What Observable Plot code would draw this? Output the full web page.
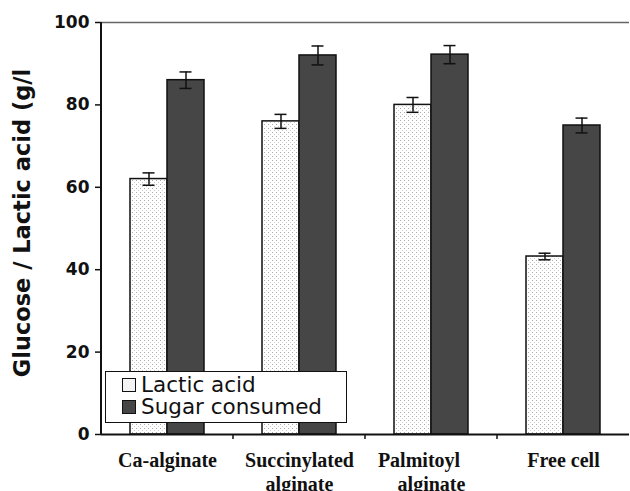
<!DOCTYPE html>
<html>
<head>
<meta charset="utf-8">
<script src="https://cdn.jsdelivr.net/npm/d3@7"></script>
<script src="https://cdn.jsdelivr.net/npm/@observablehq/plot@0.6"></script>
<style>
  html, body { margin: 0; padding: 0; background: #fff; }
  #wrap { position: relative; width: 630px; height: 491px; }
  #legend {
    position: absolute; left: 105px; top: 371px; width: 242px; height: 52px;
    border: 1.5px solid #111; background: #fff; box-sizing: border-box;
    font-family: "DejaVu Sans", Verdana, sans-serif; font-size: 21.5px; color: #111;
    padding: 2px 0 0 0; line-height: 22px;
  }
  #legend .row { display: flex; align-items: center; height: 22px; margin-left: 16px; }
  #legend .sw { width: 12px; height: 12px; border: 1.2px solid #111; margin-right: 5px; flex: none; }
</style>
</head>
<body>
<div id="wrap"></div>
<script>
const categories = ["Ca-alginate", "Succinylated alginate", "Palmitoyl alginate", "Free cell"];
const categoryLabels = ["Ca-alginate", "Succinylated\nalginate", "Palmitoyl\u00a0\u00a0\u00a0\u00a0\u00a0\nalginate", "Free cell"];
const series = ["Lactic acid", "Sugar consumed"];
const lacticAcid = [62, 76, 80, 43.2];
const sugarConsumed = [86, 92, 92.2, 75];
const lacticErr = [1.5, 1.7, 1.8, 0.8];
const sugarErr = [2.0, 2.3, 2.2, 1.8];
const yTicks = [0, 20, 40, 60, 80, 100];
const yLabel = "Glucose / Lactic acid (g/l";

const data = [];
categories.forEach((c, i) => {
  data.push({cat: c, series: series[0], value: lacticAcid[i], err: lacticErr[i]});
  data.push({cat: c, series: series[1], value: sugarConsumed[i], err: sugarErr[i]});
});

const chart = Plot.plot({
  width: 630,
  height: 491,
  marginLeft: 101,
  marginRight: 1,
  marginTop: 22,
  marginBottom: 57,
  style: {background: "#fff", color: "#111"},
  fx: {domain: categories, padding: 0, label: null},
  x: {domain: series, paddingInner: 0, paddingOuter: 0.76, axis: null},
  y: {domain: [0, 100], label: null},
  color: {domain: series, range: ["url(#dots)", "#464646"]},
  marks: [
    Plot.ruleY([100], {stroke: "#666", strokeWidth: 1.5}),
    Plot.barY(data, {fx: "cat", x: "series", y: "value", fill: "series", stroke: "#111", strokeWidth: 1.5}),
    Plot.ruleX(data, {fx: "cat", x: "series", y1: d => d.value - d.err, y2: d => d.value + d.err, stroke: "#111", strokeWidth: 1.5}),
    Plot.tickY(data, {fx: "cat", x: "series", y: d => d.value - d.err, stroke: "#111", strokeWidth: 1.5, insetLeft: 12.5, insetRight: 12.5}),
    Plot.tickY(data, {fx: "cat", x: "series", y: d => d.value + d.err, stroke: "#111", strokeWidth: 1.5, insetLeft: 12.5, insetRight: 12.5}),
    Plot.ruleY([0], {stroke: "#111", strokeWidth: 2}),
    Plot.axisY({ticks: yTicks, tickSize: 6, tickPadding: 6, label: null, fontSize: 17, fontWeight: "bold", fontFamily: "DejaVu Sans, Verdana, sans-serif", strokeWidth: 1.5}),
    Plot.axisFx({anchor: "bottom", tickSize: 0, tickPadding: 15, label: null, tickFormat: c => categoryLabels[categories.indexOf(c)], fontSize: 20, fontWeight: "bold", fontFamily: "Liberation Serif, Times New Roman, serif", lineHeight: 1.2})
  ]
});

// pattern for lactic acid bars
const svg = d3.select(chart);
const defs = svg.insert("defs", ":first-child");
const pat = defs.append("pattern").attr("id", "dots").attr("patternUnits", "userSpaceOnUse")
  .attr("width", 4).attr("height", 4);
pat.append("rect").attr("width", 4).attr("height", 4).attr("fill", "#fff");
pat.append("rect").attr("x", 0).attr("y", 0).attr("width", 1).attr("height", 1).attr("fill", "#aaa");
pat.append("rect").attr("x", 2).attr("y", 2).attr("width", 1).attr("height", 1).attr("fill", "#ccc");

const ys = chart.scale("y");
const fxs = chart.scale("fx");
const y0 = ys.apply(0), y100 = ys.apply(100);
const left = fxs.apply(categories[0]);
// y axis line
svg.append("line").attr("x1", left).attr("x2", left).attr("y1", y100).attr("y2", y0)
  .attr("stroke", "#111").attr("stroke-width", 2);
// x ticks at category boundaries
categories.slice(1).forEach(c => {
  const x = fxs.apply(c);
  svg.append("line").attr("x1", x).attr("x2", x).attr("y1", y0).attr("y2", y0 + 5)
    .attr("stroke", "#111").attr("stroke-width", 1.5);
});
// y axis title
svg.append("text")
  .attr("transform", `translate(23,${(y0 + y100) / 2 - 5}) rotate(-90)`)
  .attr("text-anchor", "middle").attr("dominant-baseline", "middle")
  .attr("font-family", "DejaVu Sans, Verdana, sans-serif").attr("font-weight", "bold")
  .attr("font-size", 22.5).attr("fill", "#111")
  .text(yLabel);

const wrap = document.getElementById("wrap");
wrap.appendChild(chart);

// legend
const legend = document.createElement("div");
legend.id = "legend";
series.forEach((s, i) => {
  const row = document.createElement("div");
  row.className = "row";
  const sw = document.createElement("div");
  sw.className = "sw";
  sw.style.background = i === 0 ? "#f4f4f4" : "#464646";
  const t = document.createElement("span");
  t.textContent = s;
  row.appendChild(sw); row.appendChild(t);
  legend.appendChild(row);
});
wrap.appendChild(legend);
</script>
</body>
</html>
